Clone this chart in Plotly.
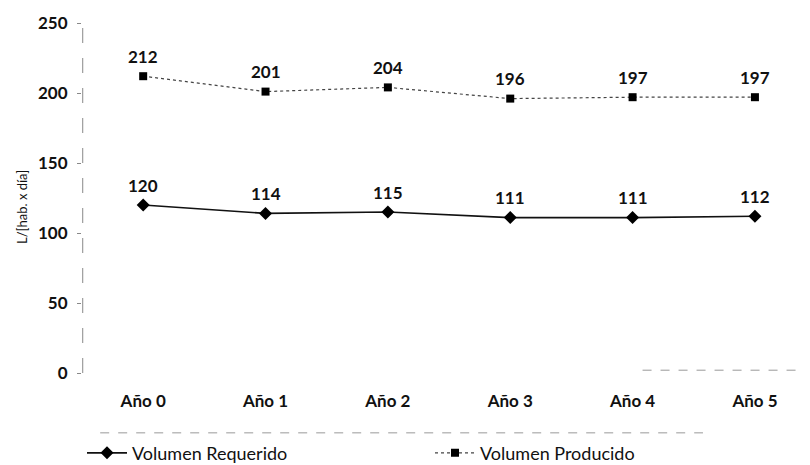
import plotly.graph_objects as go

categories = ["Año 0", "Año 1", "Año 2", "Año 3", "Año 4", "Año 5"]
requerido = [120, 114, 115, 111, 111, 112]
producido = [212, 201, 204, 196, 197, 197]
y_ticks = [0, 50, 100, 150, 200, 250]

FONT = "Lato"
PW, PH = 728, 350  # plot area size in px

fig = go.Figure()
fig.add_trace(go.Scatter(
    x=categories, y=requerido, name="Volumen Requerido",
    mode="lines+markers",
    line=dict(color="#111111", width=1.6),
    marker=dict(symbol="diamond", size=10, color="#000000"),
    cliponaxis=False,
))
fig.add_trace(go.Scatter(
    x=categories, y=producido, name="Volumen Producido",
    mode="lines+markers",
    line=dict(color="#444444", width=1.2, dash="dot"),
    marker=dict(symbol="square", size=8, color="#000000"),
    cliponaxis=False,
))

for series in (requerido, producido):
    for c, v in zip(categories, series):
        fig.add_annotation(x=c, y=v, text=str(v), showarrow=False, yshift=20,
                           font=dict(family=FONT, size=17, color="#111111", weight="bold"))

# y-axis title
fig.add_annotation(xref="paper", yref="paper", x=-60 / PW, y=166 / PH,
                   text="L/[hab. x día]", textangle=-90, showarrow=False,
                   xanchor="center", yanchor="middle",
                   font=dict(family=FONT, size=13, color="#111111"))

# scanned-looking axis lines / legend box remnants
fig.add_shape(type="line", xref="paper", yref="paper", x0=0.001, x1=0.001, y0=0, y1=1,
              line=dict(color="#888888", width=1, dash="longdash"))
fig.add_shape(type="line", xref="paper", yref="paper", x0=0.77, x1=1, y0=0.008, y1=0.008,
              line=dict(color="#999999", width=1, dash="dash"))
fig.add_shape(type="line", xref="paper", yref="paper", x0=0.025, x1=0.853, y0=-0.171, y1=-0.171,
              line=dict(color="#999999", width=1, dash="dash"))
fig.add_shape(type="line", xref="paper", yref="paper", x0=0.853, x1=0.853, y0=-0.22, y1=-0.25,
              line=dict(color="#999999", width=1))

fig.update_layout(
    width=802, height=457,
    margin=dict(l=74, r=0, t=15, b=92, autoexpand=False),
    paper_bgcolor="white", plot_bgcolor="white",
    font=dict(family=FONT, color="#111111"),
    showlegend=True,
    legend=dict(orientation="h", x=0.0, xanchor="left", y=-0.229, yanchor="middle",
                font=dict(family=FONT, size=18, color="#111111"),
                itemwidth=40, tracegroupgap=0, entrywidth=293, entrywidthmode="pixels"),
    xaxis=dict(showline=False, showgrid=False, zeroline=False, ticks="", automargin=False,
               tickfont=dict(family=FONT, size=17, weight="bold"),
               range=[-0.5, 5.45], ticklabelstandoff=16),
    yaxis=dict(range=[0, 250], tickvals=y_ticks, showgrid=False, zeroline=False, automargin=False,
               showline=False, ticks="outside", ticklen=4, tickcolor="#888888",
               tickfont=dict(family=FONT, size=17, weight="bold"), ticklabelstandoff=6),
)

fig.write_html("out.html")
